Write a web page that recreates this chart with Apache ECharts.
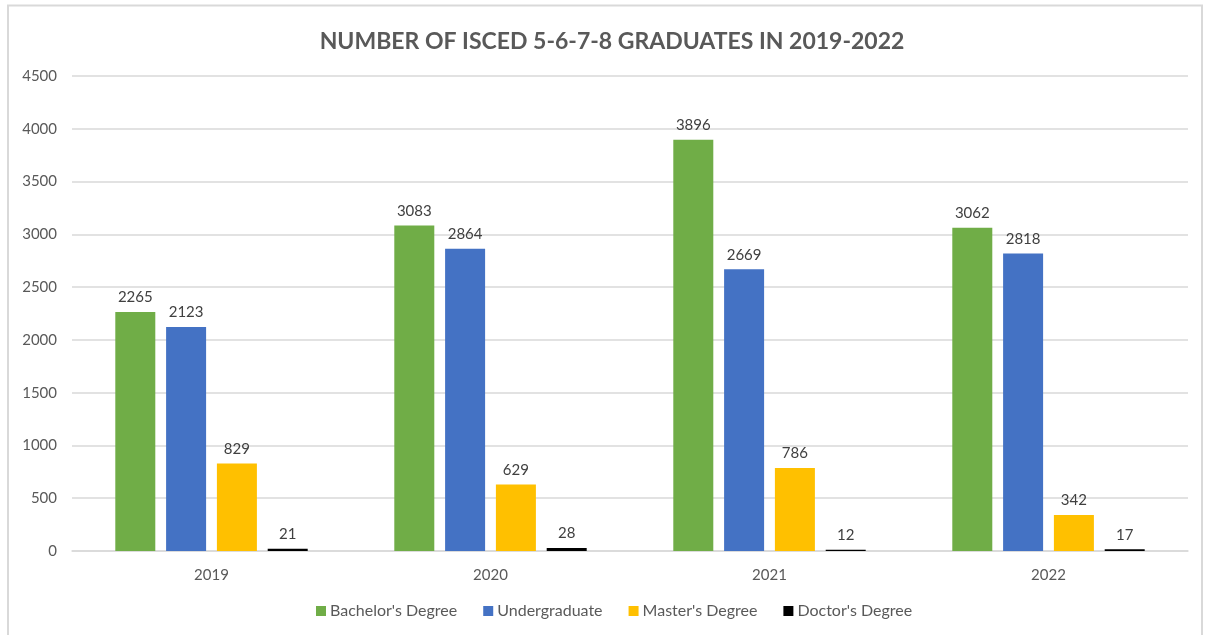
<!DOCTYPE html>
<html>
<head>
<meta charset="utf-8">
<script src="https://cdn.jsdelivr.net/npm/echarts@6/dist/echarts.min.js"></script>
<style>
html,body{margin:0;padding:0;background:#fff;}
#c{width:1205px;height:635px;}
</style>
</head>
<body>
<div id="c"></div>
<script>
const categories = ['2019', '2020', '2021', '2022'];
const bachelor = [2265, 3083, 3896, 3062];
const undergraduate = [2123, 2864, 2669, 2818];
const master = [829, 629, 786, 342];
const doctor = [21, 28, 12, 17];
const seriesNames = ["Bachelor's Degree", 'Undergraduate', "Master's Degree", "Doctor's Degree"];
const colors = ['#70AD47', '#4472C4', '#FFC000', '#000000'];
const yTicks = { min: 0, max: 4500, interval: 500 };

const FONT = 'Lato';
const chart = echarts.init(document.getElementById('c'));
const dataSets = [bachelor, undergraduate, master, doctor];
chart.setOption({
  animation: false,
  color: colors,
  title: {
    text: 'NUMBER OF ISCED 5-6-7-8 GRADUATES IN 2019-2022',
    left: 607, top: 25, textAlign: 'center',
    textStyle: { fontFamily: FONT, fontSize: 23, fontWeight: 'bold', color: '#595959' }
  },
  graphic: [{
    type: 'rect', shape: { x: 8, y: 5.5, width: 1194, height: 640 },
    style: { fill: 'none', stroke: '#d9d9d9', lineWidth: 2 }, silent: true
  }],
  legend: {
    bottom: 11, left: 311, itemWidth: 10, itemHeight: 10, itemGap: 26,
    icon: 'rect',
    textStyle: { fontFamily: FONT, fontSize: 16, color: '#595959', padding: [0, 0, 0, -1] },
    data: seriesNames
  },
  grid: { left: 72, right: 17, top: 76, bottom: 84 },
  xAxis: {
    type: 'category', data: categories,
    axisLine: { lineStyle: { color: '#d9d9d9', width: 1.5 } },
    axisTick: { show: false },
    axisLabel: { fontFamily: FONT, fontSize: 15, color: '#595959', margin: 17 }
  },
  yAxis: {
    type: 'value', min: yTicks.min, max: yTicks.max, interval: yTicks.interval,
    axisLine: { show: false }, axisTick: { show: false },
    splitLine: { lineStyle: { color: '#d9d9d9', width: 1.5 } },
    axisLabel: { fontFamily: FONT, fontSize: 15, color: '#595959', margin: 15, formatter: v => String(v) }
  },
  series: dataSets.map((d, i) => ({
    name: seriesNames[i], type: 'bar', data: d,
    barWidth: 40, barGap: '27%',
    label: { show: true, position: 'top', distance: 7, fontFamily: FONT, fontSize: 15, color: '#404040' }
  }))
});
</script>
</body>
</html>
